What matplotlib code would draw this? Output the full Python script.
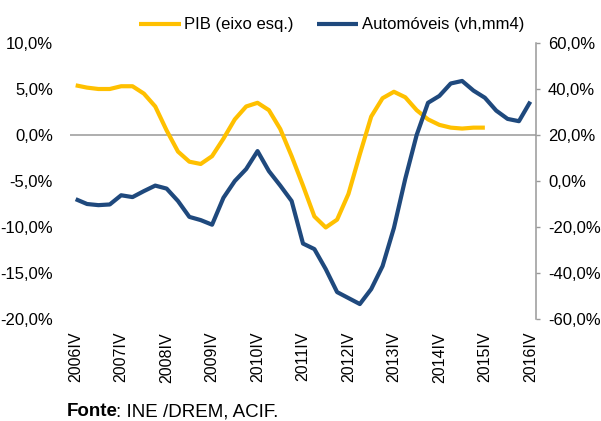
import matplotlib
matplotlib.use("Agg")
import matplotlib.pyplot as plt
import numpy as np

plt.rcParams["font.family"] = ["Liberation Sans", "DejaVu Sans"]

# quarterly series, 2006 IV .. 2016 IV
years = [str(y) + "IV" for y in range(2006, 2017)]

pib = [5.4, 5.15, 5.0, 5.0, 5.3, 5.3, 4.5, 3.1, 0.5, -1.8,
       -2.9, -3.15, -2.3, -0.4, 1.7, 3.1, 3.5, 2.7, 0.65, -2.3,
       -5.5, -8.85, -10.05, -9.2, -6.4, -2.1, 2.0, 4.0, 4.7, 4.1,
       2.7, 1.7, 1.1, 0.8, 0.7, 0.8, 0.8]

auto = [-7.9, -10.0, -10.5, -10.2, -6.2, -7.0, -4.4, -2.0, -3.3, -8.7,
        -15.6, -17.0, -19.0, -7.3, 0.0, 5.2, 13.0, 4.3, -2.0, -8.7,
        -27.2, -29.6, -38.3, -48.3, -50.9, -53.5, -47.0, -37.0, -20.4, 1.0,
        20.0, 34.0, 37.0, 42.4, 43.5, 39.3, 36.2, 30.6, 27.0, 26.0,
        34.5]

yellow = "#FFC000"
blue = "#1F497D"
grey = "#999999"
px = 72 / 100  # points per pixel

fig = plt.figure(figsize=(6.01, 4.21), dpi=100)
ax = fig.add_axes([70 / 601, 1 - 319 / 421, 466 / 601, 276 / 421])
ax2 = ax.twinx()

ax.axhline(0, color=grey, lw=1.1, zorder=1)
l1, = ax.plot(np.arange(len(pib)), pib, color=yellow, lw=3,
              solid_joinstyle="round", solid_capstyle="butt", zorder=3)
l2, = ax2.plot(np.arange(len(auto)), auto, color=blue, lw=3,
               solid_joinstyle="round", solid_capstyle="butt", zorder=3)

ax.set_xlim(-0.5, 40.5)
ax.set_ylim(-20, 10)
ax.set_yticks(np.arange(-20, 11, 5))
ax.set_yticklabels([("%.1f%%" % v).replace(".", ",") for v in np.arange(-20, 11, 5)])
ax.set_xticks(np.arange(0, 41, 4))
ax.set_xticklabels(years, rotation=90)
ax.tick_params(axis="both", length=0)
ax.tick_params(axis="y", pad=17 * px, labelsize=12)
ax.tick_params(axis="x", pad=13 * px, labelsize=11.5)

ax2.set_ylim(-60, 60)
ax2.set_yticks(np.arange(-60, 61, 20))
ax2.set_yticklabels([("%.1f%%" % v).replace(".", ",") for v in np.arange(-60, 61, 20)])
ax2.tick_params(axis="y", direction="out", length=4 * px, width=1, color=grey,
                labelsize=12, pad=8 * px)

for s in ax.spines.values():
    s.set_visible(False)
for k, s in ax2.spines.items():
    s.set_visible(k == "right")
ax2.spines["right"].set_color(grey)
ax2.spines["right"].set_linewidth(1.1)

fig.legend([l1, l2], ["PIB (eixo esq.)", "Automóveis (vh,mm4)"],
           loc="center", bbox_to_anchor=(0.5516, 1 - 25 / 421), ncol=2, frameon=False,
           fontsize=12, handlelength=2.5, handletextpad=0.2, columnspacing=1.4)

r = fig.canvas.get_renderer()
t = fig.text(67 / 601, 1 - 412 / 421, "Fonte", fontsize=13.5, fontweight="bold",
             va="center", ha="left")
bb = t.get_window_extent(renderer=r)
fig.text((bb.x1 - 2) / 601, 1 - 412 / 421, ": INE /DREM, ACIF.", fontsize=13.5,
         va="center", ha="left")

fig.savefig("out.png", dpi=100)
